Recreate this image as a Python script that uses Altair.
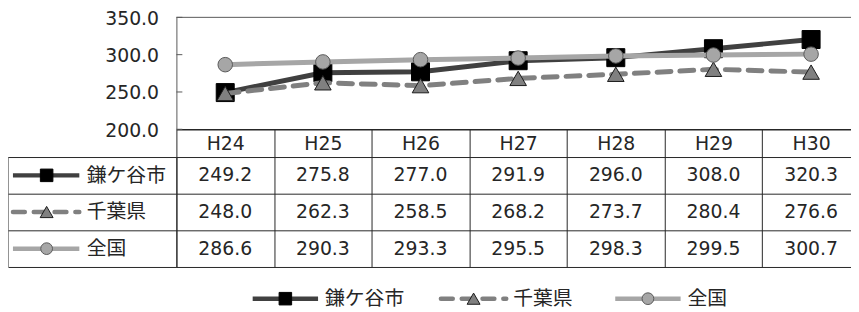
import altair as alt
import pandas as pd

# ---------------- data ----------------
YEARS = ["H24", "H25", "H26", "H27", "H28", "H29", "H30"]
SERIES = ["鎌ケ谷市", "千葉県", "全国"]
KAMAGAYA = [249.2, 275.8, 277.0, 291.9, 296.0, 308.0, 320.3]
CHIBA = [248.0, 262.3, 258.5, 268.2, 273.7, 280.4, 276.6]
ZENKOKU = [286.6, 290.3, 293.3, 295.5, 298.3, 299.5, 300.7]
Y_TICKS = [200, 250, 300, 350]

rows = []
for s, vals in zip(SERIES, [KAMAGAYA, CHIBA, ZENKOKU]):
    for yr, v in zip(YEARS, vals):
        rows.append({"series": s, "year": yr, "value": v})
df = pd.DataFrame(rows)
series_df = pd.DataFrame({"series": SERIES})
ticks_df = pd.DataFrame({"tick": Y_TICKS})

# ---------------- layout / style ----------------
JP_FONT = "Noto Sans CJK JP"
NUM_FONT = "DejaVu Sans"
FS_JP = 20
FS_NUM = 19
TXT = "#262626"
LINE_C = "#262626"
BORDER_C = "#595959"
LABEL_COL = 170          # width of the table's label column (left of plot)
PLOT_W = 690             # full width of the 7 table columns
CLIP_R = -9              # the picture is cut off at the right edge
TOP_H = 113              # line-chart plot height
HEAD_H = 28              # header row (H24 ... H30)
ROW_H = 37
TAB_TOP = TOP_H + HEAD_H
TAB_BOT = TAB_TOP + 3 * ROW_H
LEG_Y = TAB_BOT + 32

STYLE = {
    "鎌ケ谷市": dict(line="#404040", dash=None, shape="square", fill="#000000",
                 stroke="#000000", size=330, gsize=160),
    "千葉県": dict(line="#808080", dash=[14, 9], shape="triangle-up", fill="#808080",
                stroke="#1a1a1a", size=280, gsize=170),
    "全国": dict(line="#a6a6a6", dash=None, shape="circle", fill="#a6a6a6",
               stroke="#595959", size=215, gsize=140),
}

# shared x (years) -- its axis is the header row of the data table
x_enc = alt.X(
    "year:N", sort=YEARS,
    scale=alt.Scale(type="band", domain=YEARS, paddingInner=0, paddingOuter=0),
    axis=alt.Axis(title=None, orient="bottom", offset=-(TAB_BOT - TOP_H),
                  tickBand="extent", tickSize=TAB_BOT - TOP_H, tickColor=LINE_C,
                  tickWidth=1, domainColor=LINE_C, domainWidth=1.5,
                  labelPadding=HEAD_H / 2 - (TAB_BOT - TOP_H), labelBaseline="middle",
                  labelAngle=0, labelFont=NUM_FONT, labelFontSize=FS_NUM,
                  labelColor=TXT, grid=False),
)

top_scale = alt.Scale(domain=[200, 350], nice=False, zero=False, range=[TOP_H, 0])
top_axis = alt.Axis(title=None, orient="left", values=Y_TICKS, format=".1f",
                    ticks=False, grid=False, domain=True, domainColor=BORDER_C,
                    labelPadding=18, labelFont=NUM_FONT, labelFontSize=FS_NUM,
                    labelColor=TXT, labelBaseline="middle", labelOffset=1)
y_val = alt.Y("value:Q", scale=top_scale, axis=top_axis)
y_tick = alt.Y("tick:Q", scale=top_scale, axis=top_axis)

# ---------------- line chart ----------------
top_layers = [
    # top border of the plot area (at the axis maximum)
    alt.Chart(ticks_df[ticks_df.tick == max(Y_TICKS)]).mark_rule(
        color=BORDER_C, strokeWidth=1).encode(y=y_tick),
    # short inside tick marks
    alt.Chart(ticks_df).mark_rule(color=BORDER_C, strokeWidth=1).encode(
        y=y_tick, x=alt.value(0), x2=alt.value(6)),
]
for s in SERIES:
    st = STYLE[s]
    d = df[df.series == s]
    lk = dict(color=st["line"], strokeWidth=5, strokeJoin="round")
    if st["dash"]:
        lk.update(strokeDash=st["dash"], strokeCap="round")
    top_layers.append(alt.Chart(d).mark_line(**lk).encode(x=x_enc, y=y_val))
    top_layers.append(
        alt.Chart(d).mark_point(shape=st["shape"], size=st["size"], filled=True,
                                fill=st["fill"], stroke=st["stroke"], strokeWidth=1,
                                opacity=1).encode(x=x_enc, y=y_val))
top = alt.layer(*top_layers)

# ---------------- data table ----------------
y_tab = alt.Y(
    "series:N", sort=SERIES,
    scale=alt.Scale(type="band", domain=SERIES, paddingInner=0, paddingOuter=0,
                    range=[TAB_TOP, TAB_BOT]),
    axis=alt.Axis(title=None, orient="left", tickBand="extent", tickSize=LABEL_COL,
                  tickColor=LINE_C, tickWidth=1, grid=True, gridColor=LINE_C,
                  gridWidth=1, gridOpacity=1, domain=True, domainColor=LINE_C,
                  labelAlign="left", labelBaseline="middle", labelPadding=-79,
                  labelFont=JP_FONT, labelFontSize=FS_JP, labelColor=TXT),
)

tab_layers = [
    alt.Chart(alt.Data(values=[{}])).mark_rule(color=LINE_C, strokeWidth=1).encode(
        x=alt.value(-LABEL_COL), y=alt.value(TAB_TOP), y2=alt.value(TAB_BOT)),
    alt.Chart(df).mark_text(font=NUM_FONT, fontSize=FS_NUM, color=TXT,
                            baseline="middle").encode(
        x=x_enc, y=y_tab, text=alt.Text("value:Q", format=".1f")),
]

LEG_X = {"鎌ケ谷市": 110, "千葉県": 300, "全国": 476}
for s in SERIES:
    st = STYLE[s]
    d = series_df[series_df.series == s]
    lk = dict(color=st["line"], strokeWidth=4.5)
    if st["dash"]:
        lk.update(strokeDash=[12, 9], strokeCap="round")
    pk = dict(shape=st["shape"], size=st["gsize"], filled=True, fill=st["fill"],
              stroke=st["stroke"], strokeWidth=1, opacity=1)
    # key glyph in the table's label column
    tab_layers.append(alt.Chart(d).mark_rule(**lk).encode(
        x=alt.value(-165), x2=alt.value(-98), y=y_tab))
    tab_layers.append(alt.Chart(d).mark_point(**pk).encode(x=alt.value(-131), y=y_tab))
    # legend entry below the table
    cx = LEG_X[s]
    tab_layers.append(alt.Chart(d).mark_rule(**lk).encode(
        x=alt.value(cx - 33), x2=alt.value(cx + 33), y=alt.value(LEG_Y)))
    tab_layers.append(alt.Chart(d).mark_point(**pk).encode(
        x=alt.value(cx), y=alt.value(LEG_Y)))
    tab_layers.append(alt.Chart(d).mark_text(
        font=JP_FONT, fontSize=FS_JP, color=TXT, align="left", baseline="middle").encode(
        x=alt.value(cx + 40), y=alt.value(LEG_Y), text="series:N"))
table = alt.layer(*tab_layers)

chart = alt.layer(top, table).resolve_scale(y="independent").properties(
    width=PLOT_W, height=TAB_BOT,
    autosize=alt.AutoSizeParams(type="none"),
    padding={"left": LABEL_COL, "top": 8, "right": CLIP_R, "bottom": 44},
).configure_view(stroke=None)

chart.save("out.html", embed_options={"renderer": "svg", "actions": False})
